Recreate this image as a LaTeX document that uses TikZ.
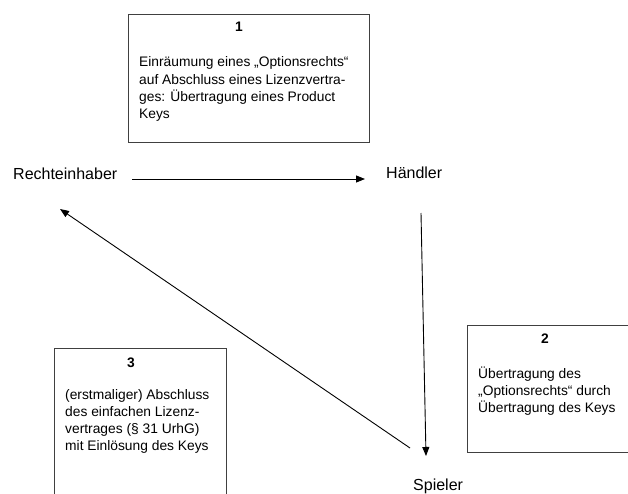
\documentclass[tikz,border=0pt]{standalone}
\usepackage{fontspec}
\setmainfont{Liberation Sans}
\usetikzlibrary{arrows.meta,calc}
\tikzset{
  boxframe/.style={draw=black!75, line width=1.3pt, inner sep=0pt, anchor=north west},
  label/.style={font=\fontsize{16pt}{19pt}\selectfont, inner sep=0pt, anchor=base west},
  numtext/.style={font=\fontsize{13.8pt}{17pt}\selectfont\bfseries, inner sep=0pt, anchor=base},
  bodytext/.style={inner sep=0pt, anchor=base west},
  arr/.style={line width=0.9pt, -{Triangle[length=9pt,width=7pt]}}
}
\newcommand{\boxbody}[2]{\parbox[t]{#1}{\fontsize{13.8pt}{17.2pt}\selectfont\raggedright #2}}
\begin{document}
\begin{tikzpicture}[x=1pt,y=-1pt]
\clip (0,0) rectangle (628,494);
\fill[white] (0,0) rectangle (628,494);
% labels
\node[label] (rh) at (13,180) {Rechteinhaber};
\node[label] (hd) at (386,179) {Händler};
\node[label] (sp) at (413,490) {Spieler};
% box 1
\node[boxframe, minimum width=241pt, minimum height=128pt] (b1) at (128,14) {};
\node[numtext] (n1) at (239,32) {1};
\node[bodytext] (t1) at (139,67) {\boxbody{220pt}{Einräumung eines „Optionsrechts“\\auf Abschluss eines Lizenzvertra-\\ges: Übertragung eines Product\\Keys}};
% box 2
\node[boxframe, minimum width=175pt, minimum height=127pt] (b2) at (467,325) {};
\node[numtext] (n2) at (545,343) {2};
\node[bodytext] (t2) at (478,378) {\boxbody{150pt}{Übertragung des\\„Optionsrechts“ durch\\Übertragung des Keys}};
% box 3
\node[boxframe, minimum width=172pt, minimum height=170pt] (b3) at (54,348) {};
\node[numtext] (n3) at (131,367) {3};
\node[bodytext] (t3) at (65,399) {\boxbody{160pt}{(erstmaliger) Abschluss\\des einfachen Lizenz-\\vertrages (§ 31 UrhG)\\mit Einlösung des Keys}};
% connectors
\coordinate (hstart) at (132,179);
\coordinate (hend) at (365,179);
\coordinate (vstart) at (421,213);
\coordinate (vend) at (426,456);
\coordinate (dstart) at (410,448);
\coordinate (dend) at (60,209);
\draw[arr] (hstart) -- (hend);
\draw[arr] (vstart) -- (vend);
\draw[arr] (dstart) -- (dend);
\end{tikzpicture}
\end{document}
